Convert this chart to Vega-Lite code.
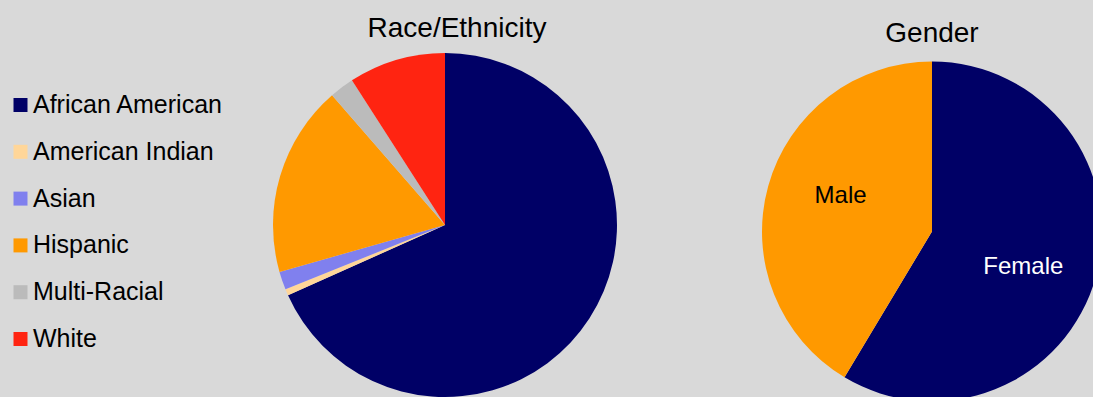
{
  "$schema": "https://vega.github.io/schema/vega-lite/v6.json",
  "background": "#d9d9d9",
  "padding": {"left": 0, "top": 15, "right": 0, "bottom": 0},
  "spacing": 0,
  "bounds": "flush",
  "resolve": {"scale": {"color": "independent", "theta": "independent"}},
  "config": {"view": {"stroke": null}, "font": "Liberation Sans"},
  "hconcat": [
    {
      "width": 890,
      "height": 348,
      "title": {"text": "Race/Ethnicity", "fontSize": 28, "fontWeight": "normal", "font": "Liberation Sans", "color": "black", "offset": -14, "baseline": "alphabetic", "dx": 12, "limit": 1000},
      "data": {"values": [
        {"race": "African American", "pct": 68.3},
        {"race": "American Indian", "pct": 0.6},
        {"race": "Asian", "pct": 1.7},
        {"race": "Hispanic", "pct": 18.0},
        {"race": "Multi-Racial", "pct": 2.3},
        {"race": "White", "pct": 9.1}
      ]},
      "mark": {"type": "arc", "outerRadius": 172},
      "encoding": {
        "theta": {"field": "pct", "type": "quantitative", "stack": true},
        "order": {"field": "race", "type": "ordinal"},
        "color": {
          "field": "race", "type": "nominal",
          "scale": {
            "domain": ["African American", "American Indian", "Asian", "Hispanic", "Multi-Racial", "White"],
            "range": ["#000066", "#ffd699", "#8080ee", "#ff9900", "#bbbbbb", "#ff2411"]
          },
          "legend": {
            "title": null, "orient": "none", "legendX": 8, "legendY": 41.5,
            "symbolType": "square", "symbolSize": 196, "symbolStrokeWidth": 0,
            "labelFontSize": 25, "labelFont": "Liberation Sans", "labelColor": "black",
            "labelOffset": 0, "rowPadding": 20.8, "padding": 0, "labelLimit": 400
          }
        }
      }
    },
    {
      "width": 84,
      "height": 361,
      "title": {"text": "Gender", "fontSize": 28, "fontWeight": "normal", "font": "Liberation Sans", "color": "black", "offset": -18.7, "baseline": "alphabetic", "limit": 1000},
      "data": {"values": [
        {"gender": "Female", "pct": 58.6},
        {"gender": "Male", "pct": 41.4}
      ]},
      "encoding": {
        "theta": {"field": "pct", "type": "quantitative", "stack": true},
        "order": {"field": "gender", "type": "ordinal"}
      },
      "layer": [
        {
          "mark": {"type": "arc", "outerRadius": 170},
          "encoding": {
            "color": {"field": "gender", "type": "nominal", "scale": {"domain": ["Female", "Male"], "range": ["#000066", "#ff9900"]}, "legend": null}
          }
        },
        {
          "mark": {"type": "text", "radius": 98, "fontSize": 24, "font": "Liberation Sans", "thetaOffset": 0.1},
          "encoding": {
            "text": {"field": "gender", "type": "nominal"},
            "detail": {"field": "gender", "type": "nominal"},
            "color": {"condition": {"test": "datum.gender === 'Female'", "value": "white"}, "value": "black"}
          }
        }
      ]
    }
  ]
}
